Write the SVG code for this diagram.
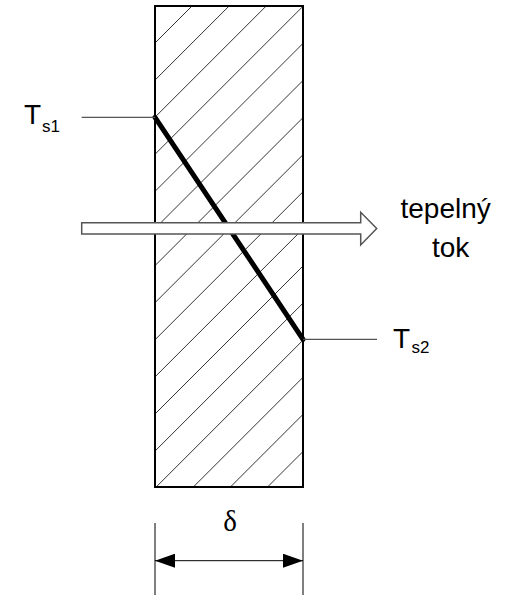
<svg xmlns="http://www.w3.org/2000/svg" width="512" height="595" viewBox="0 0 512 595">
<style>
.hatch{stroke:#333;stroke-width:1;fill:none}
.lead{stroke:#555;stroke-width:1.2;fill:none}
.lbl{font-family:"Liberation Sans",Arial,sans-serif;fill:#000}
.dim{stroke:#000;stroke-width:1;fill:none}
</style>
<defs>
<clipPath id="wallclip"><rect x="155" y="6" width="148" height="481"/></clipPath>
<marker id="dimarrow" viewBox="0 0 20 14" refX="20" refY="7" markerWidth="20" markerHeight="14" markerUnits="userSpaceOnUse" orient="auto-start-reverse">
<path d="M0,0 L20,7 L0,14 Z" fill="#000"/>
</marker>
</defs>
<rect width="512" height="595" fill="#fff"/>
<g id="wall">
<g clip-path="url(#wallclip)">
<line class="hatch" x1="-439.1" y1="600" x2="160.9" y2="0"/>
<line class="hatch" x1="-402" y1="600" x2="198" y2="0"/>
<line class="hatch" x1="-364.9" y1="600" x2="235.1" y2="0"/>
<line class="hatch" x1="-327.8" y1="600" x2="272.2" y2="0"/>
<line class="hatch" x1="-290.7" y1="600" x2="309.3" y2="0"/>
<line class="hatch" x1="-253.6" y1="600" x2="346.4" y2="0"/>
<line class="hatch" x1="-216.5" y1="600" x2="383.5" y2="0"/>
<line class="hatch" x1="-179.4" y1="600" x2="420.6" y2="0"/>
<line class="hatch" x1="-142.3" y1="600" x2="457.7" y2="0"/>
<line class="hatch" x1="-105.2" y1="600" x2="494.8" y2="0"/>
<line class="hatch" x1="-68.1" y1="600" x2="531.9" y2="0"/>
<line class="hatch" x1="-31" y1="600" x2="569" y2="0"/>
<line class="hatch" x1="6.1" y1="600" x2="606.1" y2="0"/>
<line class="hatch" x1="43.2" y1="600" x2="643.2" y2="0"/>
<line class="hatch" x1="80.3" y1="600" x2="680.3" y2="0"/>
<line class="hatch" x1="117.4" y1="600" x2="717.4" y2="0"/>
<line class="hatch" x1="154.5" y1="600" x2="754.5" y2="0"/>
<line class="hatch" x1="191.6" y1="600" x2="791.6" y2="0"/>
</g>
<rect x="155" y="6" width="148" height="481" fill="none" stroke="#000" stroke-width="2"/>
</g>
<g id="profile">
<line x1="155" y1="117.3" x2="303" y2="339.3" stroke="#000" stroke-width="5" stroke-linecap="round"/>
</g>
<g id="connectors">
<line class="lead" x1="81.7" y1="117.3" x2="155" y2="117.3"/>
<line class="lead" x1="303" y1="339.3" x2="377" y2="339.3"/>
</g>
<g id="heat-arrow">
<polygon points="81.7,222.7 360.7,222.7 360.7,212.3 376.7,228.4 360.7,245 360.7,234 81.7,234" fill="#fff" stroke="#555" stroke-width="1.5"/>
</g>
<g id="label-ts1">
<text class="lbl" x="24" y="124" font-size="28">T<tspan font-size="17" x="42" y="131.5">s1</tspan></text>
</g>
<g id="label-ts2">
<text class="lbl" x="393" y="347.5" font-size="28">T<tspan font-size="17" x="411.5" y="353.3">s2</tspan></text>
</g>
<g id="label-flow">
<text class="lbl" x="400.5" y="217.7" font-size="28">tepelný</text>
<text class="lbl" x="432" y="257.3" font-size="28">tok</text>
</g>
<g id="dimension">
<line class="dim" x1="155" y1="523" x2="155" y2="595"/>
<line class="dim" x1="303" y1="523" x2="303" y2="595"/>
<line class="dim" x1="155" y1="560.7" x2="303" y2="560.7" marker-start="url(#dimarrow)" marker-end="url(#dimarrow)"/>
<text x="230" y="531" font-size="29" text-anchor="middle" font-family="'Liberation Serif','Times New Roman',serif">δ</text>
</g>
</svg>
